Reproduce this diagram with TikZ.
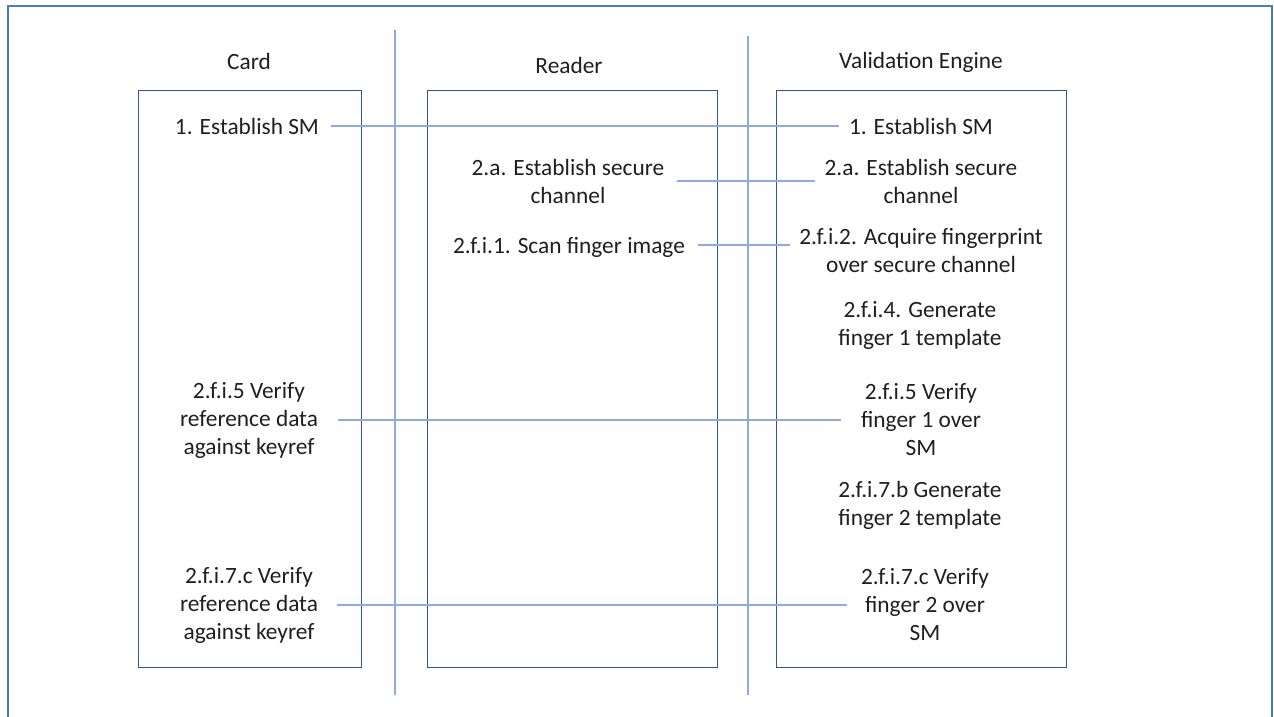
\documentclass[tikz,border=0pt]{standalone}
\usepackage{fontspec}
\setmainfont{Carlito}
\definecolor{framec}{HTML}{4A7EBB}
\definecolor{boxc}{HTML}{2F5597}
\definecolor{linec}{HTML}{8FAADC}
\tikzset{
  lanebox/.style={draw=boxc, line width=0.7pt},
  sep/.style={draw=linec, line width=1.1pt},
  conn/.style={draw=linec, line width=0.9pt},
  lbl/.style={inner sep=0pt, align=center, text=black!88, font=\fontsize{17.5}{21}\selectfont},
}
\begin{document}
\begin{tikzpicture}[x=0.75pt,y=-0.75pt]
\useasboundingbox (0,0) rectangle (1274,717);
\fill[white] (0,0) rectangle (1274,717);
% outer frame
\draw[draw=framec, line width=1.8pt] (8,717) -- (8,6) -- (1272,6) -- (1272,717);
% separators
\draw[sep] (395,30) -- (395,695);
\draw[sep] (748,36) -- (748,695);
% lane boxes
\draw[lanebox] (138,90) rectangle (361,667);
\draw[lanebox] (427,90) rectangle (717,667);
\draw[lanebox] (776,90) rectangle (1066,667);
% headers
\node[lbl] (hc) at (249,61) {Card};
\node[lbl] (hr) at (569,65) {Reader};
\node[lbl] (hv) at (921,62) {Validation Engine};
% card
\node[lbl] (c1) at (247,126) {1. Establish SM};
\node[lbl] (c2) at (249,420) {2.f.i.5 Verify\\reference data\\against keyref};
\node[lbl] (c3) at (249,605) {2.f.i.7.c Verify\\reference data\\against keyref};
% reader
\node[lbl] (r1) at (568,181) {2.a. Establish secure\\channel};
\node[lbl] (r2) at (569,247) {2.f.i.1. Scan finger image};
% validation engine
\node[lbl] (v1) at (921,126) {1. Establish SM};
\node[lbl] (v2) at (921,181) {2.a. Establish secure\\channel};
\node[lbl] (v3) at (921,251) {2.f.i.2. Acquire fingerprint\\over secure channel};
\node[lbl] (v4) at (920,325) {2.f.i.4. Generate\\finger 1 template};
\node[lbl] (v5) at (921,420) {2.f.i.5 Verify\\finger 1 over\\SM};
\node[lbl] (v6) at (920,505) {2.f.i.7.b Generate\\finger 2 template};
\node[lbl] (v7) at (925,605) {2.f.i.7.c Verify\\finger 2 over\\SM};
% connectors
\coordinate (r2c) at ([yshift=1.5pt]r2.east);
\draw[conn, shorten <=9pt, shorten >=7.5pt] (c1.east) -- (v1.west);
\draw[conn, shorten <=9pt, shorten >=6.75pt] (r1.east) -- (v2.west);
\draw[conn, shorten <=9.75pt, shorten >=6.75pt] (r2c) -- (v3.west |- r2c);
\draw[conn, shorten <=15pt, shorten >=15pt] (c2.east) -- (v5.west);
\draw[conn, shorten <=14pt, shorten >=10.5pt] (c3.east) -- (v7.west);
\end{tikzpicture}
\end{document}
